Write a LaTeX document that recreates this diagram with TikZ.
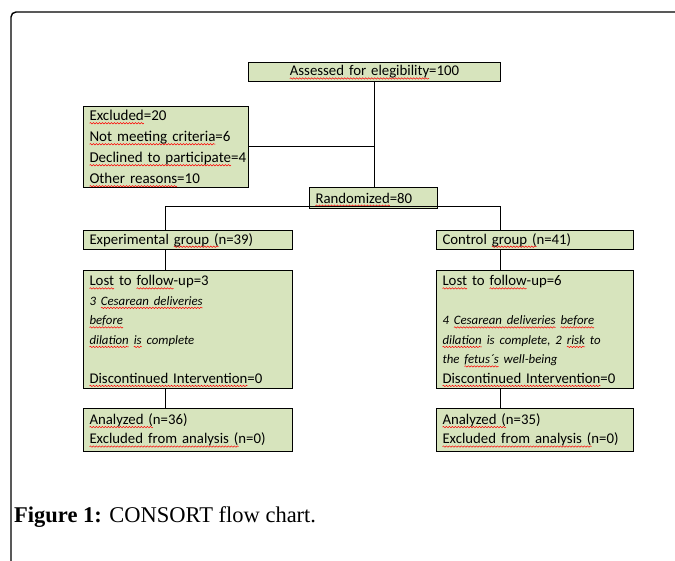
\documentclass[tikz,border=0pt]{standalone}
\usepackage{fontspec}
\setmainfont{Carlito}
\newfontfamily\capfont{Liberation Serif}
\usetikzlibrary{decorations.pathmorphing}
\definecolor{boxgreen}{HTML}{D7E4BD}
% red spell-check wave under a word
\newsavebox\splbox
\newcommand\spl[1]{\leavevmode\sbox\splbox{#1}\rlap{\tikz[overlay,baseline=0pt]
  \draw[red, line width=0.5pt, decorate, decoration={snake, amplitude=0.7pt, segment length=3pt}]
  (0pt,-2.6pt) -- (\the\wd\splbox,-2.6pt);}\usebox\splbox}
\tikzset{
  box/.style 2 args={draw, line width=1pt, fill=boxgreen, anchor=north west,
    align=left, inner xsep=6pt, inner ysep=0pt, text width=#1, minimum height=#2,
    font=\fontsize{14.8}{19.5}\selectfont},
  link/.style={line width=1pt},
}
\newcommand\itl[1]{{\fontsize{12.8}{19.5}\selectfont\itshape #1}}
\begin{document}
\begin{tikzpicture}[x=1pt,y=-1pt]
  \useasboundingbox (0,0) rectangle (675,561);
  % outer frame
  \draw[line width=1.4pt, rounded corners=5pt] (11,561) |- (675,12);

  \node[box={240pt}{19pt}, align=center] (assess) at (248,62) {\spl{Assessed for elegibility}=100};
  \node[box={153pt}{81pt}, font=\fontsize{15}{21}\selectfont] (excl) at (83,106)
    {\spl{Excluded}=20\\ \spl{Not meeting criteria}=6\\ \spl{Declined to participate}=4\\ \spl{Other reasons}=10};
  \node[box={116pt}{21pt}] (rand) at (309,187) {\spl{Randomized}=80};

  \node[box={197pt}{19pt}] (exp) at (83,230) {Experimental \spl{group (}n=39)};
  \node[box={185pt}{19pt}] (ctl) at (436,230) {Control \spl{group (}n=41)};

  \node[box={197pt}{118pt}] (lostL) at (83,270)
    {\spl{Lost} to \spl{follow}-up=3\\ \itl{3 \spl{Cesarean deliveries}}\\ \itl{\spl{before}}\\
     \itl{\spl{dilation} \spl{is} complete}\\ \mbox{}\\ \spl{Discontinued Intervention}=0};
  \node[box={185pt}{118pt}] (lostR) at (436,270)
    {\spl{Lost} to \spl{follow}-up=6\\ \mbox{}\\ \itl{4 \spl{Cesarean deliveries} \spl{before}}\\
     \itl{\spl{dilation} is complete, 2 \spl{risk} to}\\ \itl{the \spl{fetus´s} well-being}\\ \spl{Discontinued Intervention}=0};

  \node[box={197pt}{43pt}] (anaL) at (83,408) {\spl{Analyzed (}n=36)\\ \spl{Excluded from analysis (}n=0)};
  \node[box={185pt}{43pt}] (anaR) at (436,408) {\spl{Analyzed (}n=35)\\ \spl{Excluded from analysis (}n=0)};

  % connectors
  \coordinate (bl) at (165,207);
  \coordinate (br) at (500,207);
  \draw[link] (assess.south) -- (assess.south |- rand.north);
  \draw[link] (excl.east) -- (excl.east -| assess.south);
  \draw[link] (exp.north -| bl) -- (bl) -- (br) -- (ctl.north -| br);
  \draw[link] (exp.south -| bl) -- (lostL.north -| bl);
  \draw[link] (ctl.south -| br) -- (lostR.north -| br);
  \draw[link] (lostL.south -| bl) -- (anaL.north -| bl);
  \draw[link] (lostR.south -| br) -- (anaR.north -| br);

  \node[anchor=base west, inner sep=0pt, font=\capfont\fontsize{22.5}{27}\selectfont] (cap) at (14,522)
    {\textbf{Figure 1:} CONSORT flow chart.};
\end{tikzpicture}
\end{document}
